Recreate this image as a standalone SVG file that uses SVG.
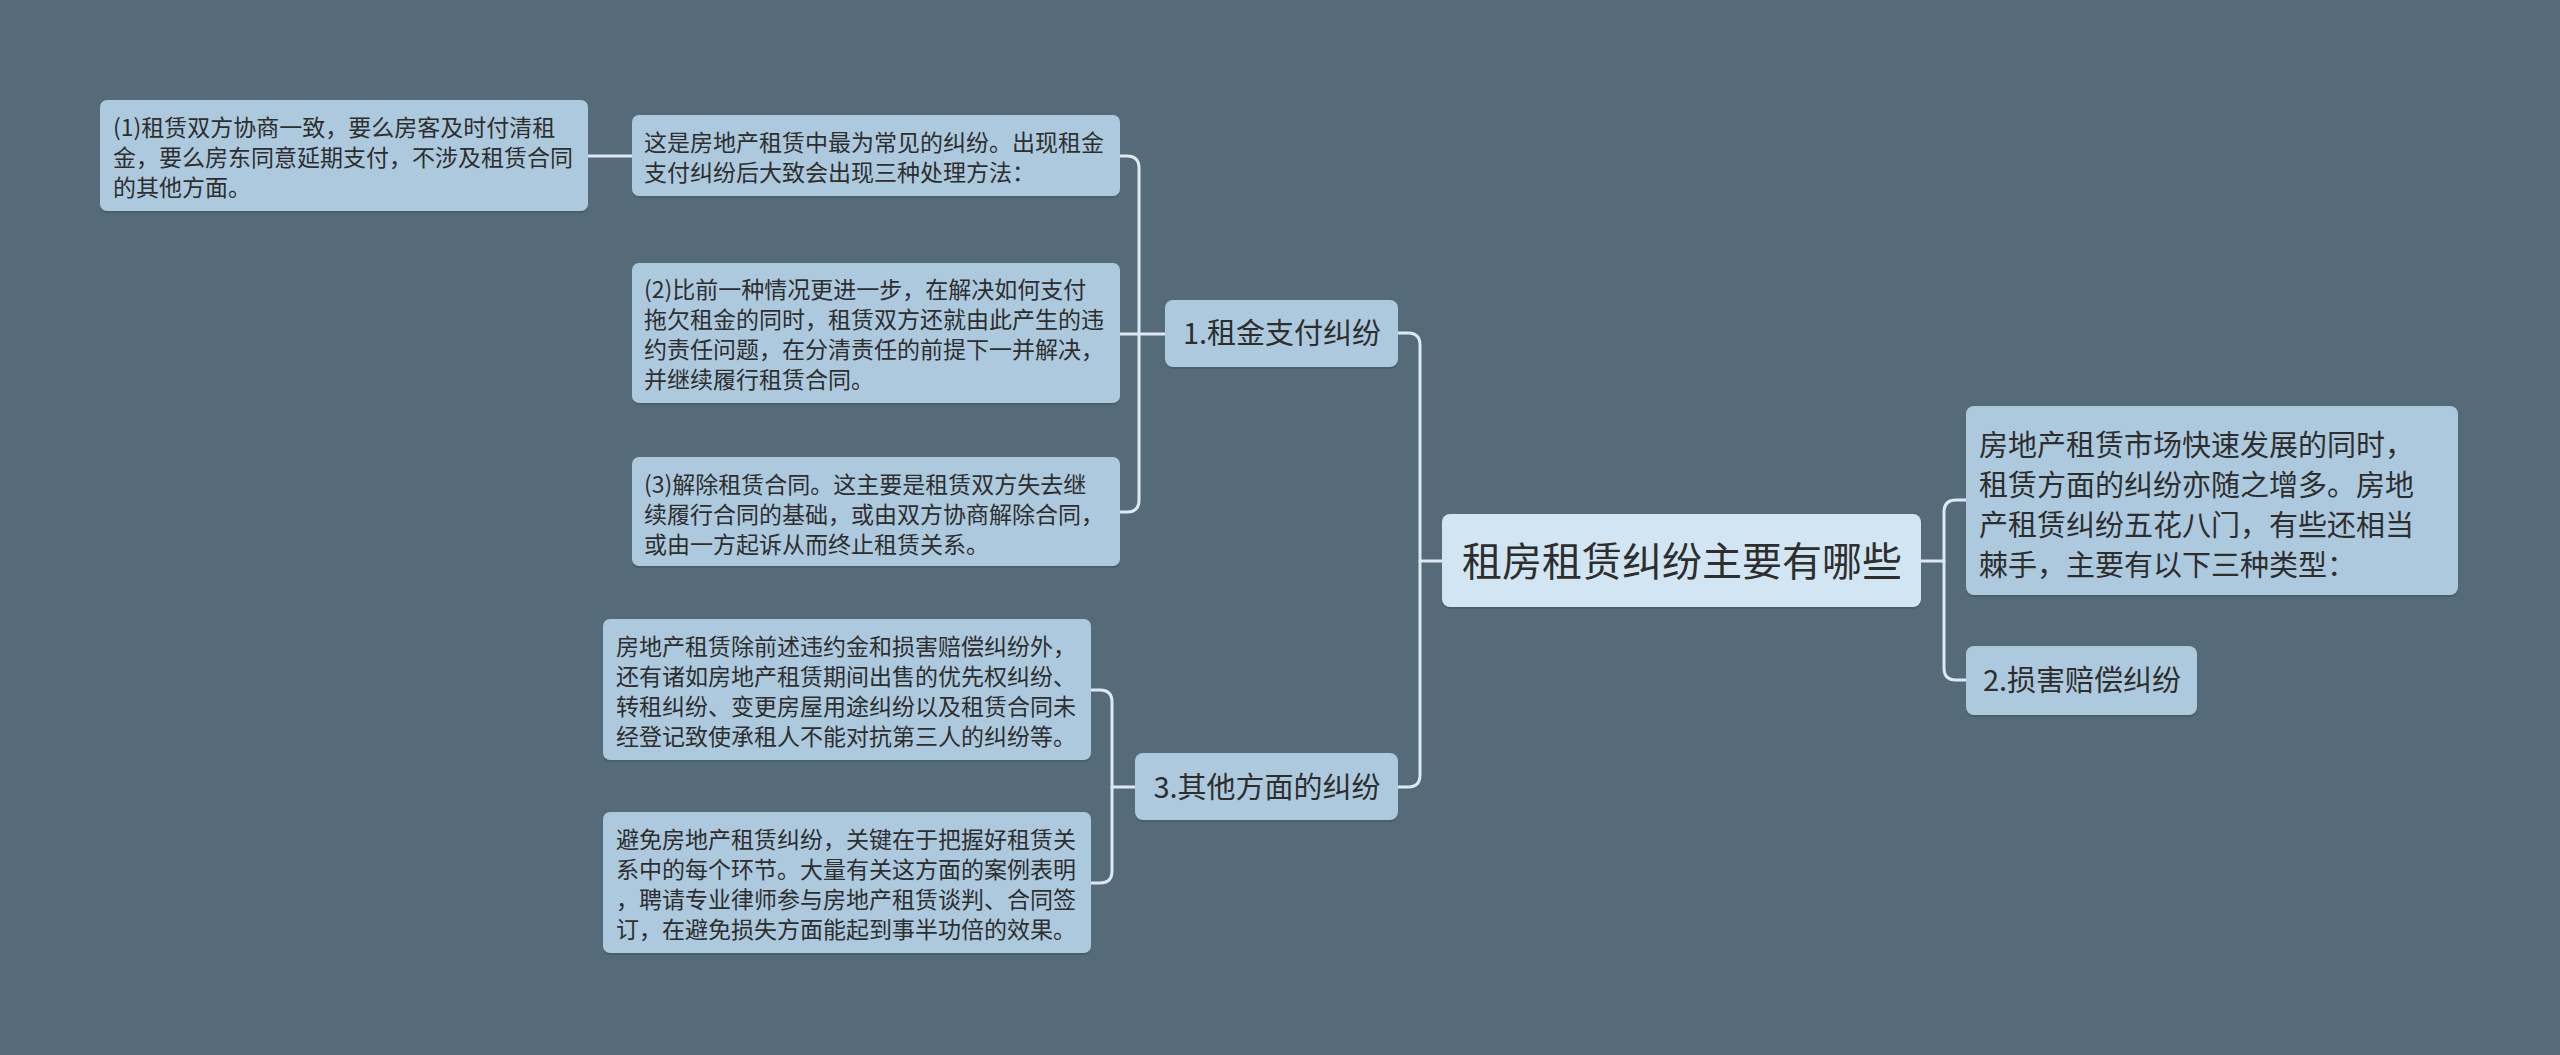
<svg xmlns="http://www.w3.org/2000/svg" width="2560" height="1055" viewBox="0 0 2560 1055">
<style>
.bg{fill:#566b7a}
.box{fill:#adc9de}
.root{fill:#d1e6f2}
.sh{fill:#4a5e6c}
.conn{fill:none;stroke:#dbe9f2;stroke-width:3;stroke-linecap:round}
text{font-family:"Noto Sans CJK SC","Noto Sans",sans-serif;fill:#2e2e2e}
.s{font-size:23px}
.m{font-size:29px}
.l{font-size:40px}
.c{text-anchor:middle}
</style>
<rect class="bg" x="0" y="0" width="2560" height="1055"/>
<g id="connectors">
<path class="conn" d="M1442,561 H1420"/>
<path class="conn" d="M1398,333 H1408 Q1420,333 1420,345 V775 Q1420,787 1408,787 H1398"/>
<path class="conn" d="M1921,561 H1944"/>
<path class="conn" d="M1966,500 H1956 Q1944,500 1944,512 V668 Q1944,680 1956,680 H1966"/>
<path class="conn" d="M1120,156 H1127 Q1139,156 1139,168 V500 Q1139,512 1127,512 H1120"/>
<path class="conn" d="M1120,334 H1165"/>
<path class="conn" d="M588,156 H632"/>
<path class="conn" d="M1091,690 H1100 Q1112,690 1112,702 V871 Q1112,883 1100,883 H1091"/>
<path class="conn" d="M1112,787 H1135"/>
</g>
<g id="root">
<rect class="sh" x="1442" y="516" width="479" height="93" rx="8"/>
<rect class="root" x="1442" y="514" width="479" height="93" rx="8"/>
<text class="l c" x="1682" y="576">租房租赁纠纷主要有哪些</text>
</g>
<g id="intro">
<rect class="sh" x="1966" y="408" width="492" height="189" rx="8"/>
<rect class="box" x="1966" y="406" width="492" height="189" rx="8"/>
<text class="m" x="1979" y="456">房地产租赁市场快速发展的同时，</text>
<text class="m" x="1979" y="496">租赁方面的纠纷亦随之增多。房地</text>
<text class="m" x="1979" y="536">产租赁纠纷五花八门，有些还相当</text>
<text class="m" x="1979" y="576">棘手，主要有以下三种类型：</text>
</g>
<g id="n2">
<rect class="sh" x="1966" y="648" width="231" height="69" rx="8"/>
<rect class="box" x="1966" y="646" width="231" height="69" rx="8"/>
<text class="m c" x="2082" y="691">2.损害赔偿纠纷</text>
</g>
<g id="n1">
<rect class="sh" x="1165" y="302" width="233" height="67" rx="8"/>
<rect class="box" x="1165" y="300" width="233" height="67" rx="8"/>
<text class="m c" x="1282" y="344">1.租金支付纠纷</text>
</g>
<g id="n3">
<rect class="sh" x="1135" y="755" width="263" height="67" rx="8"/>
<rect class="box" x="1135" y="753" width="263" height="67" rx="8"/>
<text class="m c" x="1267" y="798">3.其他方面的纠纷</text>
</g>
<g id="n1a">
<rect class="sh" x="632" y="117" width="488" height="81" rx="7"/>
<rect class="box" x="632" y="115" width="488" height="81" rx="7"/>
<text class="s" x="644" y="151">这是房地产租赁中最为常见的纠纷。出现租金</text>
<text class="s" x="644" y="181">支付纠纷后大致会出现三种处理方法：</text>
</g>
<g id="n1a1">
<rect class="sh" x="100" y="102" width="488" height="111" rx="7"/>
<rect class="box" x="100" y="100" width="488" height="111" rx="7"/>
<text class="s" x="113" y="136">(1)租赁双方协商一致，要么房客及时付清租</text>
<text class="s" x="113" y="166">金，要么房东同意延期支付，不涉及租赁合同</text>
<text class="s" x="113" y="196">的其他方面。</text>
</g>
<g id="n1b">
<rect class="sh" x="632" y="265" width="488" height="140" rx="7"/>
<rect class="box" x="632" y="263" width="488" height="140" rx="7"/>
<text class="s" x="644" y="298">(2)比前一种情况更进一步，在解决如何支付</text>
<text class="s" x="644" y="328">拖欠租金的同时，租赁双方还就由此产生的违</text>
<text class="s" x="644" y="358">约责任问题，在分清责任的前提下一并解决，</text>
<text class="s" x="644" y="388">并继续履行租赁合同。</text>
</g>
<g id="n1c">
<rect class="sh" x="632" y="459" width="488" height="109" rx="7"/>
<rect class="box" x="632" y="457" width="488" height="109" rx="7"/>
<text class="s" x="644" y="493">(3)解除租赁合同。这主要是租赁双方失去继</text>
<text class="s" x="644" y="523">续履行合同的基础，或由双方协商解除合同，</text>
<text class="s" x="644" y="553">或由一方起诉从而终止租赁关系。</text>
</g>
<g id="n3a">
<rect class="sh" x="603" y="621" width="488" height="141" rx="7"/>
<rect class="box" x="603" y="619" width="488" height="141" rx="7"/>
<text class="s" x="616" y="655">房地产租赁除前述违约金和损害赔偿纠纷外，</text>
<text class="s" x="616" y="685">还有诸如房地产租赁期间出售的优先权纠纷、</text>
<text class="s" x="616" y="715">转租纠纷、变更房屋用途纠纷以及租赁合同未</text>
<text class="s" x="616" y="745">经登记致使承租人不能对抗第三人的纠纷等。</text>
</g>
<g id="n3b">
<rect class="sh" x="603" y="814" width="488" height="141" rx="7"/>
<rect class="box" x="603" y="812" width="488" height="141" rx="7"/>
<text class="s" x="616" y="848">避免房地产租赁纠纷，关键在于把握好租赁关</text>
<text class="s" x="616" y="878">系中的每个环节。大量有关这方面的案例表明</text>
<text class="s" x="616" y="908">，聘请专业律师参与房地产租赁谈判、合同签</text>
<text class="s" x="616" y="938">订，在避免损失方面能起到事半功倍的效果。</text>
</g>
</svg>
